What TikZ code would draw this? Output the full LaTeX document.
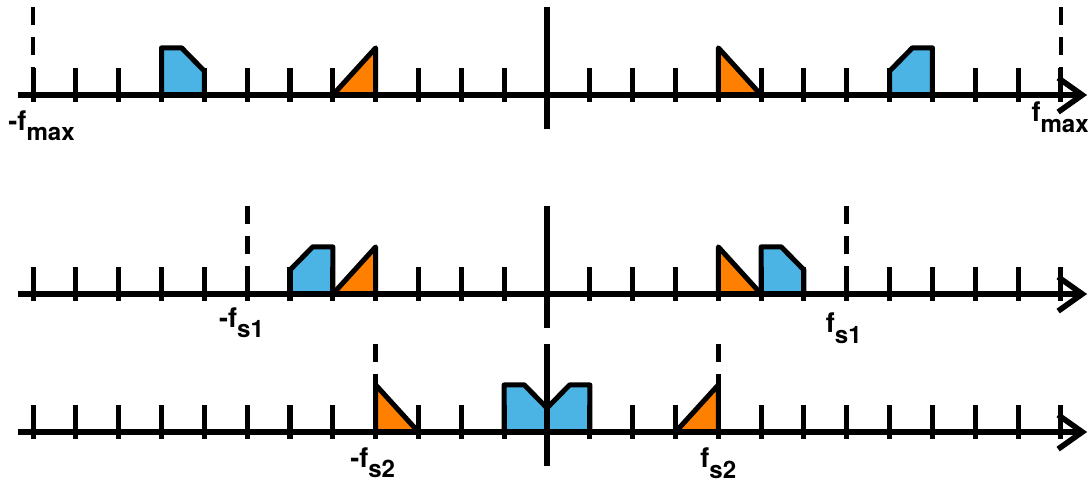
\documentclass[tikz,border=0pt]{standalone}
\usepackage{fontspec}
\setmainfont{TeX Gyre Heros}
\definecolor{specblue}{RGB}{76,180,228}
\definecolor{specorange}{RGB}{255,128,0}
\usetikzlibrary{arrows.meta}
\newcommand{\fsub}[1]{\raisebox{-5pt}{\fontsize{12pt}{12pt}\selectfont #1}}
\tikzset{
  axisline/.style={line width=2.8pt, -{Straight Barb[length=12pt,width=17pt,line width=2.8pt]}},
  tick/.style={line width=2.5pt},
  midline/.style={line width=3.3pt},
  cutoff/.style={line width=2.4pt, dash pattern=on 9pt off 6pt},
  bluebox/.style={draw=black, line width=2.5pt, line join=round, fill=specblue},
  orangebox/.style={draw=black, line width=2.5pt, line join=round, fill=specorange},
  flabel/.style={font=\bfseries\fontsize{13.5pt}{13.5pt}\selectfont, inner sep=0pt, anchor=base},
}
\begin{document}
\begin{tikzpicture}[x=0.75cm,y=0.75cm]
    \useasboundingbox (-12.771,-1.167) rectangle (12.701,10.086);
    \foreach \xa/\ya in {-9/7.868,5/3.222,-1/0}
      \draw[bluebox,shift={(\xa,\ya)}] (0,0) -- (0,1.1) -- (0.47,1.1) -- (1,0.56) -- (1,0) -- cycle;
    \foreach \xa/\ya in {8/7.868,-6/3.222,0/0}
      \draw[bluebox,shift={(\xa,\ya)}] (0,0) -- (0,0.56) -- (0.53,1.1) -- (1,1.1) -- (1,0) -- cycle;
    \foreach \xa/\ya in {-5/7.868,-5/3.222,3/0}
      \draw[orangebox,shift={(\xa,\ya)}] (0,0) -- (1,1.1) -- (1,0) -- cycle;
    \foreach \xa/\ya in {4/7.868,4/3.222,-4/0}
      \draw[orangebox,shift={(\xa,\ya)}] (0,0) -- (0,1.1) -- (1,0) -- cycle;
    \foreach \x/\ya in {-12/7.868,12/7.868,-7/3.222,7/3.222,-4/0,4/0}
      \draw[cutoff] (\x,\ya+2.05) -- (\x,\ya);
    \foreach \ya in {0,3.222,7.868} {
      \draw[axisline] (-12.35,\ya) -- (12.61,\ya);
      \foreach \x in {-12,...,-1,1,2,...,12}
        \draw[tick] (\x,\ya-0.16) -- (\x,\ya+0.63);
      \draw[midline] (0,\ya-0.8) -- (0,\ya+2.05); }
    \node[flabel] (fmaxneg)  at (-11.80,7.868-0.82) {-f\fsub{max}};
    \node[flabel] (fmaxpos)  at (11.98,7.868-0.63)  {f\fsub{max}};
    \node[flabel] (fsoneneg) at (-7.13,3.222-0.79)  {-f\fsub{s1}};
    \node[flabel] (fsonepos) at (6.93,3.222-0.91)   {f\fsub{s1}};
    \node[flabel] (fstwoneg) at (-4.07,-0.82)       {-f\fsub{s2}};
    \node[flabel] (fstwopos) at (4.00,-0.84)        {f\fsub{s2}};
\end{tikzpicture}
\end{document}
